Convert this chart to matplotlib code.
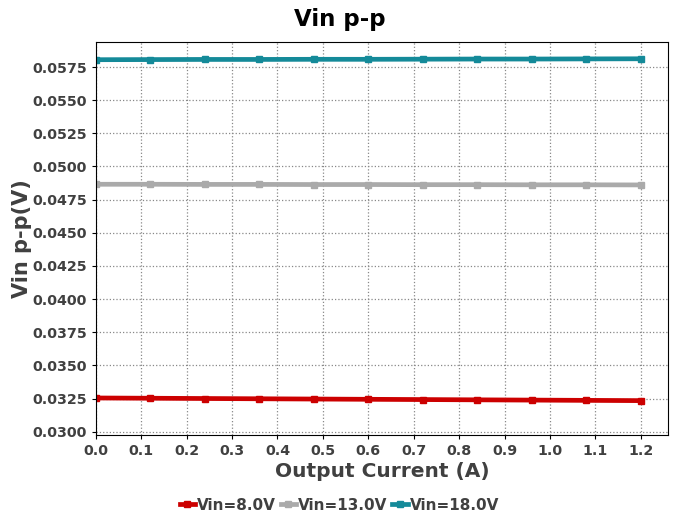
import numpy as np
import matplotlib.pyplot as plt

current = [0.0, 0.12, 0.24, 0.36, 0.48, 0.60, 0.72, 0.84, 0.96, 1.08, 1.20]
vin_8 = [0.03255, 0.03253, 0.03251, 0.03249, 0.03247, 0.03245, 0.03243, 0.03241, 0.03239, 0.03237, 0.03235]
vin_13 = [0.04866, 0.04866, 0.04865, 0.04865, 0.04864, 0.04864, 0.04863, 0.04863, 0.04862, 0.04862, 0.04861]
vin_18 = [0.05805, 0.05806, 0.05807, 0.05807, 0.05808, 0.05808, 0.05809, 0.05810, 0.05810, 0.05811, 0.05812]
labels = ["Vin=8.0V", "Vin=13.0V", "Vin=18.0V"]
colors = ["#cc0000", "#aaaaaa", "#148a99"]

txt = "#404040"
fig, ax = plt.subplots(figsize=(6.79, 5.16), dpi=100)
fig.subplots_adjust(left=0.141, right=0.984, top=0.919, bottom=0.157)

for y, lab, c in zip([vin_8, vin_13, vin_18], labels, colors):
    ax.plot(current, y, color=c, lw=3.4, marker="s", ms=5, label=lab)

ax.set_xlim(0, 1.26)
ax.set_ylim(0.02976, 0.0594)
ax.set_xticks(np.arange(0, 1.21, 0.1))
ax.set_yticks(np.arange(0.03, 0.0576, 0.0025))
ax.xaxis.set_major_formatter(plt.FormatStrFormatter("%.1f"))
ax.yaxis.set_major_formatter(plt.FormatStrFormatter("%.4f"))
for t in ax.get_xticklabels() + ax.get_yticklabels():
    t.set_fontweight("bold")
    t.set_color(txt)
ax.tick_params(labelsize=10.3, length=3, pad=3.5)
ax.grid(True, ls=":", color="#888888", lw=0.9)

fig.suptitle("Vin p-p", fontsize=16.5, fontweight="bold", y=0.985)
ax.set_xlabel("Output Current (A)", fontsize=14.5, fontweight="bold", color=txt, labelpad=3)
ax.set_ylabel("Vin p-p(V)", fontsize=15, fontweight="bold", color=txt, labelpad=0)

leg = fig.legend(loc="lower center", ncol=3, frameon=False, bbox_to_anchor=(0.5, -0.02),
                 handlelength=1.0, handletextpad=0.15, columnspacing=0.3,
                 prop={"weight": "bold", "size": 11})
for t in leg.get_texts():
    t.set_color(txt)

plt.savefig("out.png")
